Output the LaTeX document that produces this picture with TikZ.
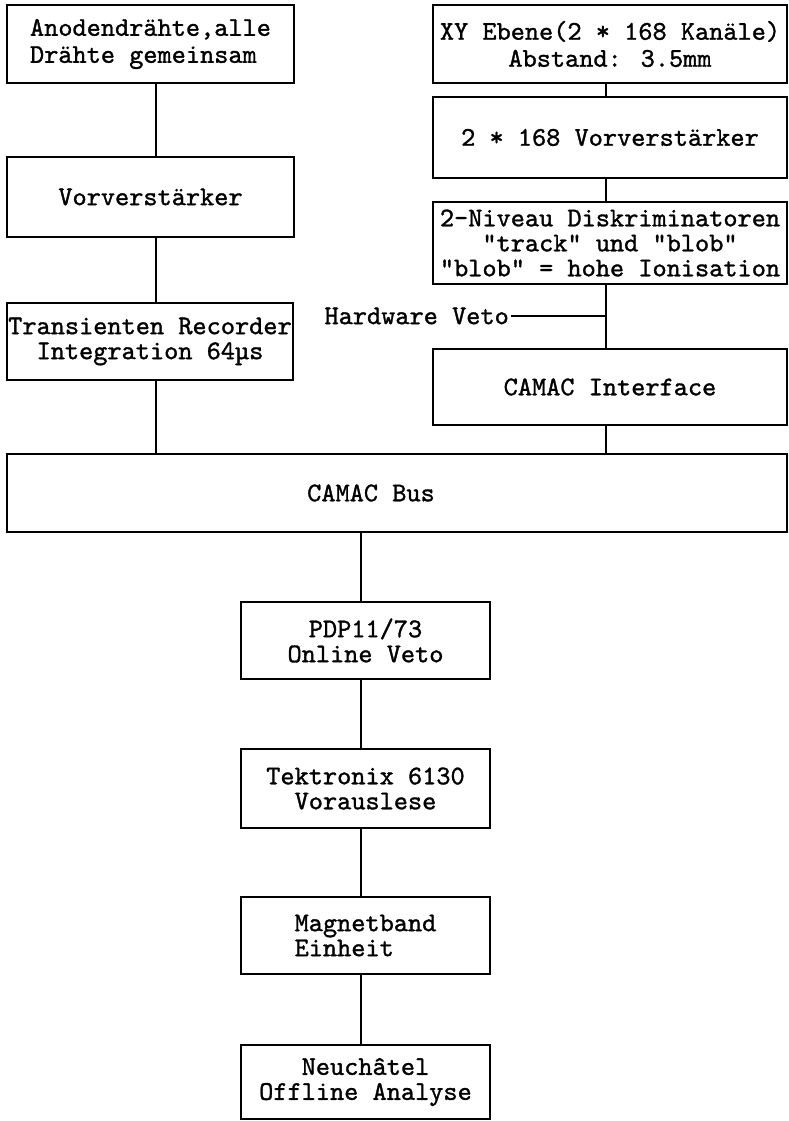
\documentclass[tikz,border=0pt]{standalone}
\usepackage{fontspec}
\setmainfont{lmmono10-regular.otf}[Ligatures=TeXOff,FakeBold=1.2]
\begin{document}
\begin{tikzpicture}[x=1pt,y=-1pt,
  box/.style={draw,line width=1.4pt,inner sep=0pt,outer sep=0pt,align=center,
    font=\fontsize{27}{25}\selectfont},
  conn/.style={line width=1.4pt},
  lbl/.style={inner sep=0pt,font=\fontsize{27}{25}\selectfont}]
\useasboundingbox (0,0) rectangle (789,1121);
% left column
\node[box,minimum width=287pt,minimum height=78pt,align=left,font=\fontsize{27}{27}\selectfont] (A) at (150.5,44) {Anodendrähte,alle\\Drähte gemeinsam};
\node[box,minimum width=287pt,minimum height=80pt] (V) at (150.5,197) {Vorverstärker};
\node[box,minimum width=286pt,minimum height=77pt] (T) at (150,341.5) {Transienten Recorder\\Integration 64µs};
% right column
\node[box,minimum width=354pt,minimum height=78pt,font=\fontsize{27}{27}\selectfont] (B) at (610,44) {XY Ebene(2 * 168 Kanäle)\\Abstand: 3.5mm};
\node[box,minimum width=354pt,minimum height=81pt] (C) at (610,137.5) {2 * 168 Vorverstärker};
\node[box,minimum width=354pt,minimum height=82pt,font=\fontsize{27}{25}\selectfont] (D) at (610,243) {2-Niveau Diskriminatoren\\"track" und "blob"\\"blob" = hohe Ionisation};
\node[box,minimum width=354pt,minimum height=76pt] (E) at (610,387) {CAMAC Interface};
\node[lbl,anchor=east] (hv) at (509,316) {Hardware Veto};
% bus
\node[box,minimum width=780pt,minimum height=78pt,label={[lbl,xshift=-26pt]center:CAMAC Bus}] (bus) at (397,493) {};
% lower column
\node[box,minimum width=249pt,minimum height=77pt] (P) at (365.5,640.5) {PDP11/73\\Online Veto};
\node[box,minimum width=249pt,minimum height=79pt] (K) at (365.5,788.5) {Tektronix 6130\\Vorauslese};
\node[box,minimum width=249pt,minimum height=77pt,align=left] (M) at (365.5,935.5) {Magnetband\\Einheit};
\node[box,minimum width=249pt,minimum height=74pt] (N) at (365.5,1082) {Neuchâtel\\Offline Analyse};
% connector x positions
\coordinate (xl) at (156,0);
\coordinate (xr) at (606,0);
\coordinate (xm) at (361,0);
% connectors
\draw[conn] (A.south -| xl) -- (V.north -| xl);
\draw[conn] (V.south -| xl) -- (T.north -| xl);
\draw[conn] (T.south -| xl) -- (bus.north -| xl);
\draw[conn] (B.south -| xr) -- (C.north -| xr);
\draw[conn] (C.south -| xr) -- (D.north -| xr);
\draw[conn] (D.south -| xr) -- (E.north -| xr);
\draw[conn] (E.south -| xr) -- (bus.north -| xr);
\draw[conn] ([xshift=2pt]hv.east) -- (hv.east -| xr);
\draw[conn] (bus.south -| xm) -- (P.north -| xm);
\draw[conn] (P.south -| xm) -- (K.north -| xm);
\draw[conn] (K.south -| xm) -- (M.north -| xm);
\draw[conn] (M.south -| xm) -- (N.north -| xm);
\end{tikzpicture}
\end{document}
